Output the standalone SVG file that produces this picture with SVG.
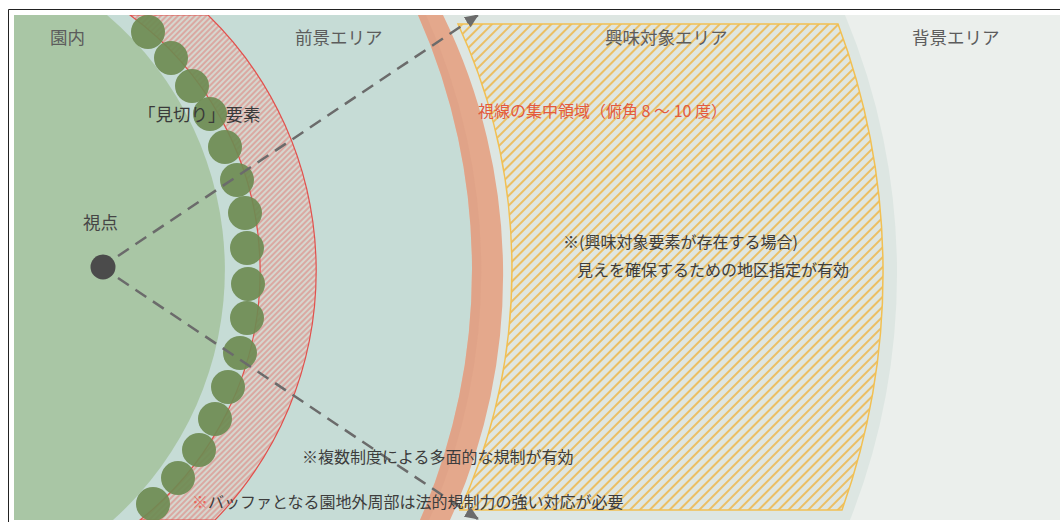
<svg xmlns="http://www.w3.org/2000/svg" width="1060" height="522" viewBox="0 0 1060 522">
  <style>
    .lbl { font-family: "Noto Sans CJK JP", "Noto Sans", sans-serif; font-size: 17.5px; fill: #5c5c5c; }
    .txt { font-family: "Noto Sans CJK JP", "Noto Sans", sans-serif; font-size: 16px; fill: #3d3d3d; }
    .red { fill: #e35a3f; }
    .tree { fill: #6e8b52; fill-opacity: 0.92; }
    .conn { fill: none; stroke: #6b6b6b; stroke-width: 2.5; stroke-dasharray: 13 8; }
  </style>
  <defs>
    <clipPath id="area"><rect x="14" y="15" width="1046" height="505"/></clipPath>
    <pattern id="hatchY" width="7" height="7" patternUnits="userSpaceOnUse" patternTransform="rotate(45)">
      <rect width="7" height="7" fill="#dfe6e1"/>
      <line x1="1" y1="0" x2="1" y2="7" stroke="#eeb84e" stroke-width="1.7"/>
    </pattern>
    <pattern id="hatchR" width="4" height="4" patternUnits="userSpaceOnUse" patternTransform="rotate(45)">
      <rect width="4" height="4" fill="#d6d6ce"/>
      <line x1="1" y1="0" x2="1" y2="4" stroke="#de7b76" stroke-width="1"/>
    </pattern>
    <marker id="arr" markerUnits="userSpaceOnUse" markerWidth="14" markerHeight="12" refX="13" refY="6" orient="auto">
      <path d="M0,0 L14,6 L0,12 Z" fill="#6b6b6b"/>
    </marker>
  </defs>

  <rect x="0" y="0" width="1060" height="522" fill="#ffffff"/>
  <path d="M8.5 522 L8.5 9.5 L1060 9.5" fill="none" stroke="#222" stroke-width="1"/>

  <g clip-path="url(#area)">
    <g id="background-area">
      <rect x="14" y="15" width="1046" height="505" fill="#ebefec"/>
    </g>
    <g id="interest-area">
      <path d="M14 15 L845 15 A669 669 0 0 1 850 520 L14 520 Z" fill="#dde6e2"/>
    </g>
    <g id="foreground-area">
      <path d="M14 15 L418 15 A628 628 0 0 1 420 520 L14 520 Z" fill="#c6dcd6"/>
    </g>
    <g id="gaze-band">
      <path d="M418 15 L443 15 A592 592 0 0 1 450 520 L420 520 A628 628 0 0 0 418 15 Z" fill="#e4a88c"/>
      <path d="M418 15 L426 15 A620 620 0 0 1 429 520 L420 520 A628 628 0 0 0 418 15 Z" fill="#dea086" opacity="0.6"/>
    </g>
    <g id="interest-zone">
      <path d="M458 24 L838 24 A708 708 0 0 1 842 510 L460 510 A584 584 0 0 0 458 24 Z" fill="url(#hatchY)" stroke="#f2c052" stroke-width="1.5"/>
    </g>
    <g id="park-area">
      <path d="M14 15 L107 15 A335 335 0 0 1 113 520 L14 520 Z" fill="#a9c6a5"/>
    </g>
    <g id="buffer-band">
      <path d="M130 15 L208 15 A357 357 0 0 1 215 520 L140 520 A317.5 317.5 0 0 0 130 15 Z" fill="url(#hatchR)" stroke="#e2504c" stroke-width="1.2"/>
    </g>
    <g id="trees">
      <circle class="tree" cx="148" cy="32" r="17"/>
      <circle class="tree" cx="171" cy="58" r="17"/>
      <circle class="tree" cx="192" cy="86" r="17"/>
      <circle class="tree" cx="210" cy="114" r="17"/>
      <circle class="tree" cx="225" cy="147" r="17"/>
      <circle class="tree" cx="237" cy="180" r="17"/>
      <circle class="tree" cx="245" cy="213" r="17"/>
      <circle class="tree" cx="247" cy="248" r="17"/>
      <circle class="tree" cx="248" cy="284" r="17"/>
      <circle class="tree" cx="247" cy="318" r="17"/>
      <circle class="tree" cx="240" cy="353" r="17"/>
      <circle class="tree" cx="228" cy="387" r="17"/>
      <circle class="tree" cx="215" cy="419" r="17"/>
      <circle class="tree" cx="199" cy="450" r="17"/>
      <circle class="tree" cx="178" cy="478" r="17"/>
      <circle class="tree" cx="153" cy="504" r="17"/>
    </g>
    <g id="connectors">
      <path class="conn" d="M118 256 L478 15" marker-end="url(#arr)"/>
      <path class="conn" d="M118 278 L478 519" marker-end="url(#arr)"/>
    </g>
    <g id="viewpoint">
      <circle cx="103" cy="267" r="12.5" fill="#4b4b4b"/>
      <text class="lbl" x="83" y="229" style="fill:#454545">視点</text>
    </g>
  </g>

  <g id="labels">
    <text class="lbl" x="50" y="44">園内</text>
    <text class="lbl" x="295" y="44">前景エリア</text>
    <text class="lbl" x="605" y="44">興味対象エリア</text>
    <text class="lbl" x="912" y="44">背景エリア</text>
    <text class="lbl" x="138" y="121" style="fill:#3a3a3a">「見切り」要素</text>
    <text class="txt red" x="478" y="117">視線の集中領域（俯角 8 ～ 10 度）</text>
    <text class="txt" x="563" y="248">※(興味対象要素が存在する場合)</text>
    <text class="txt" x="577" y="276">見えを確保するための地区指定が有効</text>
    <text class="txt" x="302" y="463">※複数制度による多面的な規制が有効</text>
    <text class="txt" x="192" y="508"><tspan class="red" style="fill:#e8665a">※</tspan>バッファとなる園地外周部は法的規制力の強い対応が必要</text>
  </g>
</svg>
